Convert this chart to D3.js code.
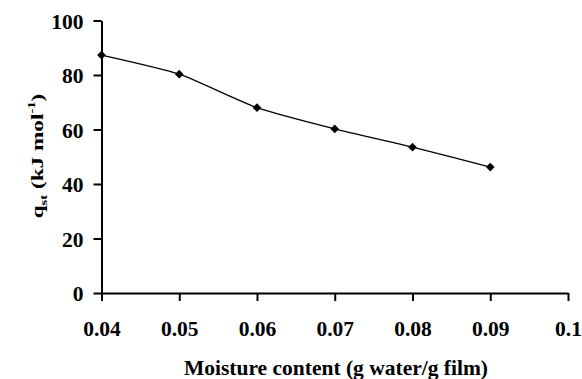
<!DOCTYPE html>
<html>
<head>
<meta charset="utf-8">
<script src="https://cdn.jsdelivr.net/npm/d3@7"></script>
<style>
  body { margin: 0; background: #fff; }
  text { font-family: "Liberation Serif", "Times New Roman", serif; font-weight: bold; }
</style>
</head>
<body>
<div id="chart"></div>
<script>
// moisture content (g water/g film)
const moisture = [0.04, 0.05, 0.06, 0.07, 0.08, 0.09];
// isosteric heat qst (kJ/mol)
const qst = [87.3, 80.3, 68.0, 60.2, 53.5, 46.2];
const xTicks = [0.04, 0.05, 0.06, 0.07, 0.08, 0.09, 0.1];
const yTicks = [0, 20, 40, 60, 80, 100];

const width = 582;
const height = 379;
const marginLeft = 101.5;
const marginRight = 14;
const marginTop = 20.5;
const marginBottom = 86;

const x = d3.scaleLinear()
  .domain([0.04, 0.1])
  .range([marginLeft, width - marginRight]);

const y = d3.scaleLinear()
  .domain([0, 100])
  .range([height - marginBottom, marginTop]);

const svg = d3.select('#chart')
  .append('svg')
  .attr('width', width)
  .attr('height', height);

// axes
const gx = svg.append('g')
  .attr('transform', `translate(0,${y(0)})`)
  .call(d3.axisBottom(x)
    .tickValues(xTicks)
    .tickSize(8)
    .tickSizeOuter(0)
    .tickFormat(d => d === 0.1 ? '0.1' : d3.format('.2f')(d)));

const gy = svg.append('g')
  .attr('transform', `translate(${x(0.04)},0)`)
  .call(d3.axisLeft(y)
    .tickValues(yTicks)
    .tickSize(8)
    .tickSizeOuter(0));

[gx, gy].forEach(g => {
  g.select('.domain').attr('stroke', '#000').attr('stroke-width', 2);
  g.selectAll('.tick line').attr('stroke', '#000').attr('stroke-width', 2);
  g.selectAll('.tick text')
    .attr('fill', '#000')
    .style('font-size', '21.5px')
    .style('font-family', '"Liberation Serif", serif');
});
gx.selectAll('.tick text').attr('dy', 0).attr('y', 43);
gy.selectAll('.tick text').attr('x', -18).attr('dy', '0.35em');

// line (smoothed, like the spreadsheet original)
const line = d3.line()
  .x((d, i) => x(moisture[i]))
  .y(d => y(d))
  .curve(d3.curveCardinal.tension(0.45));

svg.append('path')
  .datum(qst)
  .attr('fill', 'none')
  .attr('stroke', '#000')
  .attr('stroke-width', 1.3)
  .attr('d', line);

// diamond markers
svg.selectAll('.pt')
  .data(qst)
  .join('path')
  .attr('class', 'pt')
  .attr('d', d3.symbol(d3.symbolSquare, 38))
  .attr('transform', (d, i) => `translate(${x(moisture[i])},${y(d)}) rotate(45)`)
  .attr('fill', '#000');

// axis titles
svg.append('text')
  .attr('x', 336)
  .attr('y', 375)
  .attr('text-anchor', 'middle')
  .style('font-size', '21.5px')
  .text('Moisture content (g water/g film)');

const yt = svg.append('text')
  .attr('text-anchor', 'middle')
  .style('font-size', '17.5px');
yt.append('tspan').text('q');
yt.append('tspan').attr('dy', 4).style('font-size', '11px').text('st');
yt.append('tspan').attr('dy', -4).text(' (kJ mol');
yt.append('tspan').attr('dy', -8).style('font-size', '11px').text('-1');
yt.append('tspan').attr('dy', 8).text(')');
const ytLen = yt.node().getBBox().width;
yt.attr('transform', `translate(43,156) rotate(-90) scale(${125 / ytLen},1)`);
</script>
</body>
</html>
